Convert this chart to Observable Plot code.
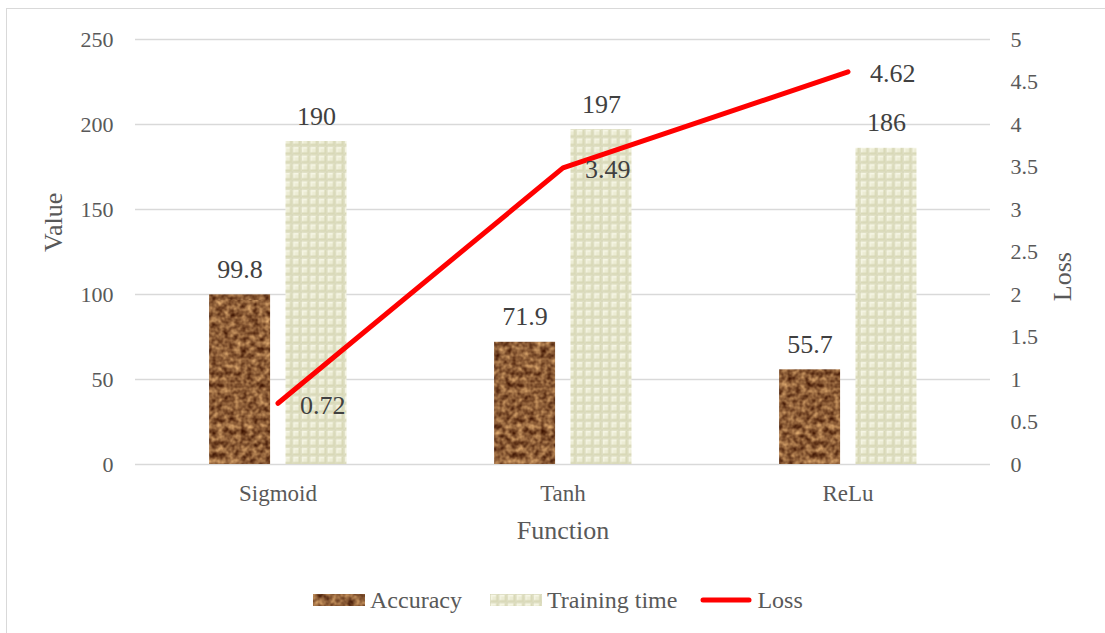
<!DOCTYPE html>
<html><head><meta charset="utf-8">
<script src="https://cdn.jsdelivr.net/npm/d3@7"></script>
<script src="https://cdn.jsdelivr.net/npm/@observablehq/plot@0.6"></script>
<style>
body{margin:0;background:#fff;font-family:"Liberation Serif","Times New Roman",serif;width:1105px;height:633px;overflow:hidden;position:relative;}
#frame{position:absolute;left:6px;top:8px;width:1200px;height:700px;border:1.5px solid #d9d9d9;box-sizing:border-box;}
#chart{position:absolute;left:0;top:0;}
#defs{position:absolute;left:0;top:0;}
#legend{position:absolute;left:313px;top:586px;height:28px;display:flex;align-items:center;font-size:24px;color:#595959;white-space:nowrap;}
#legend .item{display:flex;align-items:center;}
#legend svg{display:block;margin-right:5px;}
</style>
</head><body>
<div id="frame"></div>
<svg id="defs" width="1" height="1">
  <defs>
    <filter id="leatherF" filterUnits="userSpaceOnUse" x="0" y="0" width="300" height="300" color-interpolation-filters="sRGB">
      <feTurbulence type="fractalNoise" baseFrequency="0.17" numOctaves="2" seed="11" result="n"/>
      <feColorMatrix in="n" type="matrix" values="0.8 0 0 0 0.15  0.75 0 0 0 -0.01  0.55 0 0 0 -0.06  0 0 0 0 1"/>
    </filter>
    <pattern id="accPat" patternUnits="userSpaceOnUse" width="300" height="300">
      <rect width="300" height="300" fill="#8a5530"/>
      <rect width="300" height="300" fill="#8a5530" filter="url(#leatherF)"/>
    </pattern>
    <pattern id="trainPat" patternUnits="userSpaceOnUse" width="8.6" height="8.6">
      <rect width="8.6" height="8.6" fill="#dadabc"/>
      <rect x="0.8" y="0.8" width="7" height="7" fill="#ececd4"/>
      <rect x="0.8" y="0.8" width="7" height="1.6" fill="#f6f6e6"/>
      <rect x="0.8" y="0.8" width="1.6" height="7" fill="#f4f4e2"/>
      <rect x="0.8" y="6.2" width="7" height="1.6" fill="#d8d8b6"/>
      <rect x="6.2" y="0.8" width="1.6" height="7" fill="#d8d8b6"/>
    </pattern>
  </defs>
</svg>
<div id="chart"></div>
<div id="legend"></div>
<script>
const categories = ["Sigmoid", "Tanh", "ReLu"];
const accuracy = [99.8, 71.9, 55.7];
const trainingTime = [190, 197, 186];
const loss = [0.72, 3.49, 4.62];
const leftTicks = [0, 50, 100, 150, 200, 250];
const rightTicks = [0, 0.5, 1, 1.5, 2, 2.5, 3, 3.5, 4, 4.5, 5];
const seriesNames = ["Accuracy", "Training time", "Loss"];

const serif = '"Liberation Serif", "Times New Roman", serif';
const lossScale = 250 / 5;
const layout = {acc: [-0.240, -0.026], train: [0.028, 0.242]};
const rows = categories.flatMap((c, i) => [
  {i, series: "Accuracy", value: accuracy[i], x1: i + layout.acc[0], x2: i + layout.acc[1]},
  {i, series: "Training time", value: trainingTime[i], x1: i + layout.train[0], x2: i + layout.train[1]}
]);
const lossRows = categories.map((c, i) => ({i, loss: loss[i], y: loss[i] * lossScale}));

const plot = Plot.plot({
  width: 1105, height: 580,
  marginLeft: 135, marginRight: 115, marginTop: 39, marginBottom: 116,
  style: {fontFamily: serif, fontSize: "22px", color: "#595959", background: "transparent", overflow: "visible"},
  x: {type: "linear", domain: [-0.5, 2.5]},
  y: {domain: [0, 250]},
  marks: [
    Plot.gridY(leftTicks, {stroke: "#d9d9d9", strokeOpacity: 1, strokeWidth: 1.5}),
    Plot.axisY(leftTicks, {anchor: "left", tickSize: 0, tickPadding: 22, label: null, fontSize: 22}),
    Plot.axisY(rightTicks.map(v => v * lossScale), {anchor: "right", tickSize: 0, tickPadding: 20, tickFormat: v => String(v / lossScale), label: null, fontSize: 22}),
    Plot.axisX(categories.map((c, i) => i), {anchor: "bottom", tickSize: 0, tickPadding: 20, tickFormat: i => categories[i], label: null, fontSize: 23}),
    Plot.rectY(rows.filter(d => d.series === "Accuracy"), {x1: "x1", x2: "x2", y: "value", fill: "url(#accPat)"}),
    Plot.rectY(rows.filter(d => d.series === "Training time"), {x1: "x1", x2: "x2", y: "value", fill: "url(#trainPat)"}),
    Plot.text(rows, {x: d => (d.x1 + d.x2) / 2, y: "value", text: d => String(d.value), lineAnchor: "bottom", dy: -17, fill: "#404040", fontSize: 26}),
    Plot.line(lossRows, {x: "i", y: "y", stroke: "#ff0000", strokeWidth: 5, strokeLinecap: "round", strokeLinejoin: "round"}),
    Plot.text(lossRows, {x: "i", y: "y", text: d => String(d.loss), textAnchor: "start", dx: 22, dy: 2, fill: "#404040", fontSize: 26}),
    Plot.text(["Value"], {frameAnchor: "left", dx: -82, rotate: -90, fontSize: 26, fill: "#595959"}),
    Plot.text(["Loss"], {frameAnchor: "right", dx: 72, rotate: -90, fontSize: 26, fill: "#595959"}),
    Plot.text(["Function"], {frameAnchor: "bottom", dy: 74, fontSize: 26, fill: "#595959"})
  ]
});
document.getElementById("chart").appendChild(plot);

const legend = document.getElementById("legend");
const swatches = [
  `<svg width="52" height="12"><rect width="52" height="12" fill="url(#accPat)"/></svg>`,
  `<svg width="52" height="12"><rect width="52" height="12" fill="url(#trainPat)"/></svg>`,
  `<svg width="52" height="12"><line x1="3" x2="49" y1="6" y2="6" stroke="#ff0000" stroke-width="5" stroke-linecap="round"/></svg>`
];
const gaps = [28, 23, 0];
seriesNames.forEach((name, k) => {
  const item = document.createElement("div");
  item.className = "item";
  item.style.marginRight = gaps[k] + "px";
  item.innerHTML = swatches[k] + `<span>${name}</span>`;
  legend.appendChild(item);
});
</script>
</body></html>
